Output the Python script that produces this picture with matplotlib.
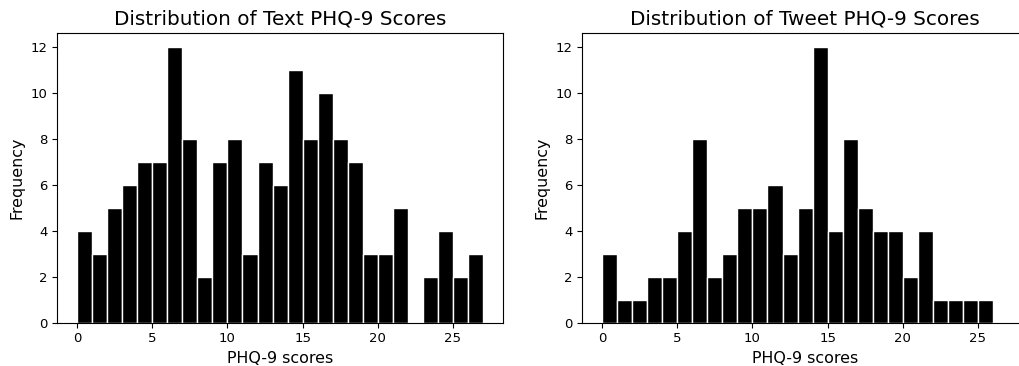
import matplotlib
matplotlib.use('Agg')
import matplotlib.pyplot as plt
import numpy as np

# counts per unit-wide score bin, starting at score 0
text_counts = [4, 3, 5, 6, 7, 7, 12, 8, 2, 7, 8, 3, 7, 6, 11, 8, 10, 8, 7, 3, 3, 5, 0, 2, 4, 2, 3]
tweet_counts = [3, 1, 1, 2, 2, 4, 8, 2, 3, 5, 5, 6, 3, 5, 12, 4, 8, 5, 4, 4, 2, 4, 1, 1, 1, 1]
titles = ['Distribution of Text PHQ-9 Scores', 'Distribution of Tweet PHQ-9 Scores']
max_score = 27

fig = plt.figure(figsize=(10.2, 3.66), dpi=100)
ax1 = fig.add_axes([0.0559, 0.1183, 0.4373, 0.7915])
ax2 = fig.add_axes([0.5706, 0.1183, 0.4373, 0.7915])

for ax, counts, title in [(ax1, text_counts, titles[0]), (ax2, tweet_counts, titles[1])]:
    edges = np.arange(len(counts))
    ax.bar(edges, counts, width=1, align='edge', color='black', edgecolor='white', linewidth=1)
    ax.set_xlim(-0.05 * max_score, 1.05 * max_score)
    ax.set_ylim(0, 12.6)
    ax.set_yticks(range(0, 13, 2))
    ax.set_xticks(range(0, 26, 5))
    ax.tick_params(labelsize=9.5, length=3.5, width=0.8)
    ax.set_title(title, fontsize=14.4)
    ax.set_xlabel('PHQ-9 scores', fontsize=11.4)
    ax.set_ylabel('Frequency', fontsize=11.4)
    for s in ax.spines.values():
        s.set_linewidth(0.8)

fig.savefig('out.png', dpi=100)
